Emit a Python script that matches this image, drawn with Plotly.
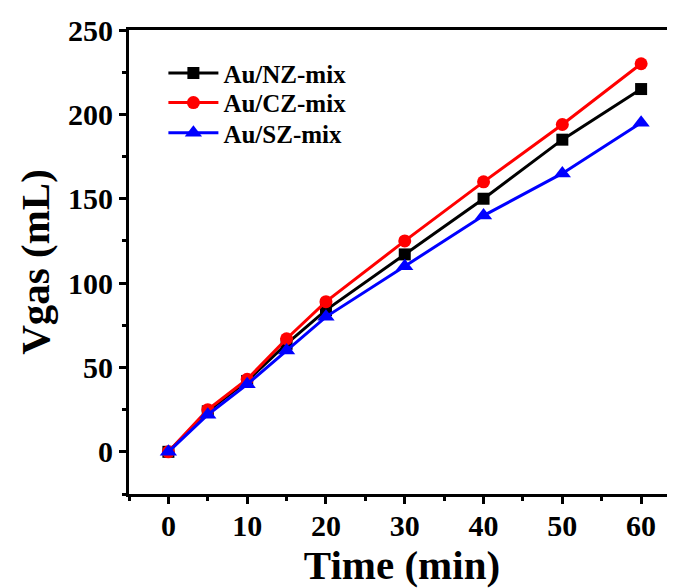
import plotly.graph_objects as go

time_min = [0, 5, 10, 15, 20, 30, 40, 50, 60]
nz_mix = [0, 24, 42, 64, 84, 117, 150, 185, 215]
cz_mix = [0, 25, 43, 67, 89, 125, 160, 194, 230]
sz_mix = [0, 22, 40, 60, 80, 110, 140, 165, 195]

series = [
    ("Au/NZ-mix", nz_mix, "#000000", "square", 12),
    ("Au/CZ-mix", cz_mix, "#ff0000", "circle", 13),
    ("Au/SZ-mix", sz_mix, "#0000ff", "triangle-up", 15),
]
legend_rows = [0.907, 0.843, 0.778]

font_family = "Liberation Serif, Times New Roman, serif"

fig = go.Figure()
legend_layout = {}
for i, (name, vals, color, sym, size) in enumerate(series):
    lname = "legend" if i == 0 else f"legend{i + 1}"
    fig.add_trace(go.Scatter(
        x=time_min, y=vals, name=name, mode="lines+markers",
        line=dict(color=color, width=3),
        marker=dict(color=color, symbol=sym, size=size),
        legend=lname,
    ))
    legend_layout[lname] = dict(
        x=0.063, y=legend_rows[i], xanchor="left", yanchor="middle",
        bgcolor="rgba(0,0,0,0)", borderwidth=0,
        font=dict(family=font_family, size=25, color="black", weight="bold"),
        itemwidth=50,
    )

axis_common = dict(
    showgrid=False, zeroline=False, showline=True, linecolor="black", linewidth=3,
    ticks="outside", ticklen=7, tickwidth=3, tickcolor="black", automargin=False,
    tickfont=dict(family=font_family, size=30, color="black", weight="bold"),
)

fig.update_layout(
    width=667, height=580,
    margin=dict(l=121, r=0, t=22, b=94),
    paper_bgcolor="white", plot_bgcolor="white",
    font=dict(family=font_family, color="black"),
    showlegend=True,
    xaxis=dict(
        axis_common, range=[-5, 64.3], tickvals=[0, 10, 20, 30, 40, 50, 60],
        mirror=True, ticklabelstandoff=-4,
        minor=dict(ticks="outside", ticklen=4, tickwidth=3, tickcolor="black", dtick=5, tick0=0),
        title=dict(text="Time (min)", font=dict(family=font_family, size=41, color="black", weight="bold"), standoff=8),
    ),
    yaxis=dict(
        axis_common, range=[-25, 250], tickvals=[0, 50, 100, 150, 200, 250],
        mirror=False,
        minor=dict(ticks="outside", ticklen=4, tickwidth=3, tickcolor="black", dtick=25, tick0=0),
        title=dict(text="Vgas (mL)", font=dict(family=font_family, size=41, color="black", weight="bold"), standoff=6),
    ),
    **legend_layout,
)

fig.write_html("out.html")
